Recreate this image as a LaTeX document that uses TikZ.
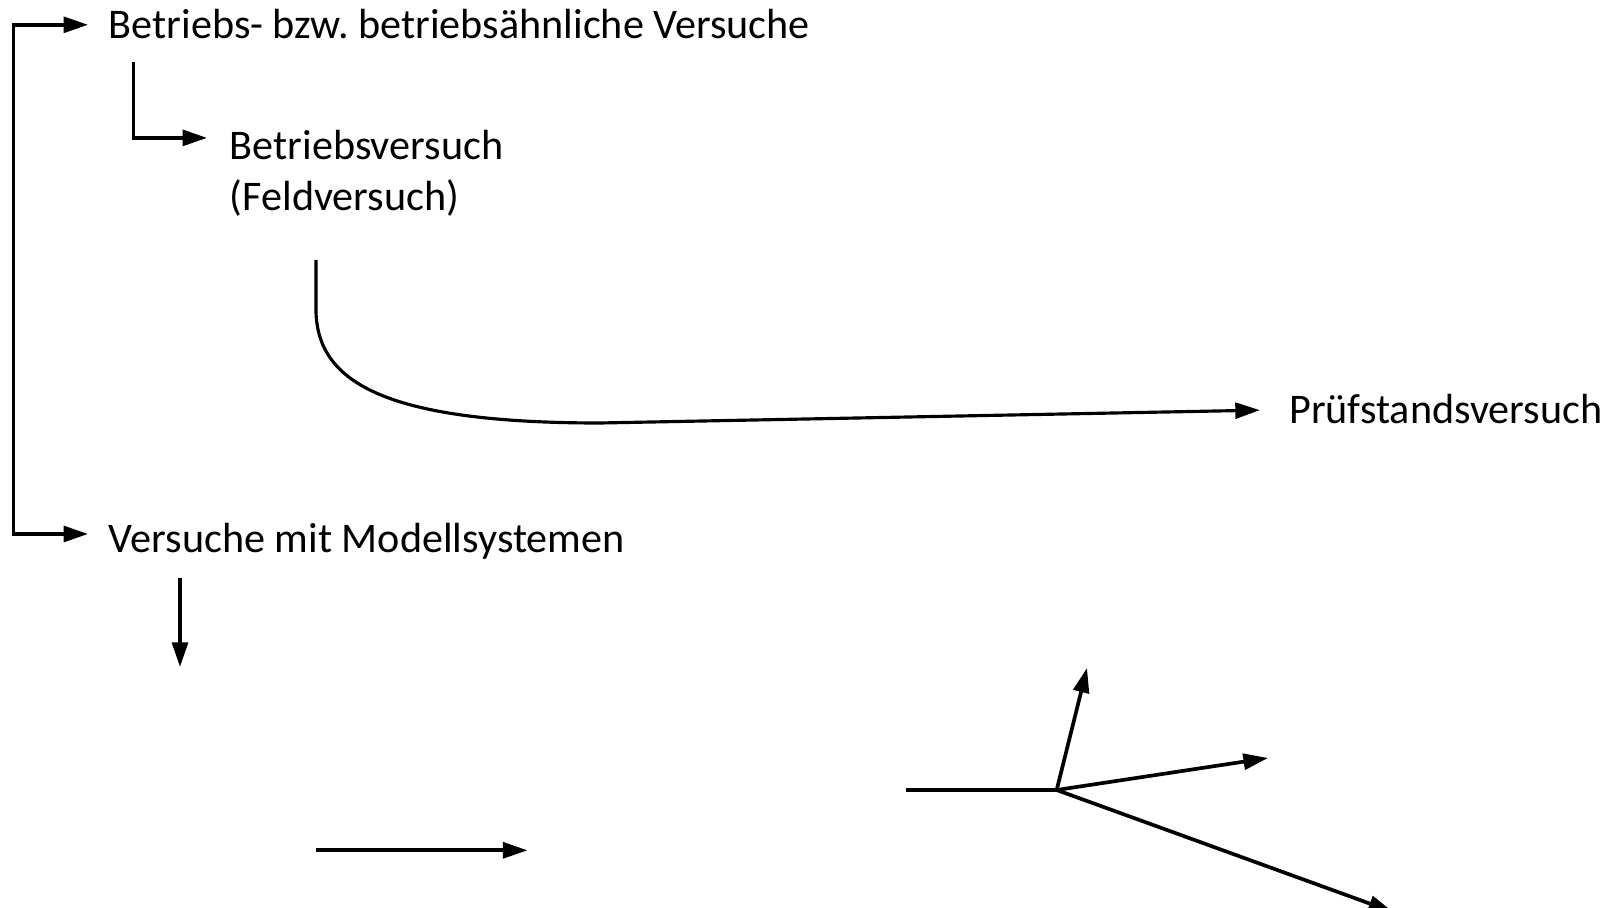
\documentclass[tikz,border=0pt]{standalone}
\usepackage{fontspec}
\setmainfont{Carlito}
\usetikzlibrary{positioning,arrows.meta}
\frenchspacing
\tikzset{
  arrow/.style={-{Triangle[length=14pt,width=9pt]}, line width=2.1pt, draw=black},
  bracket/.style={arrow, line cap=rect, line join=miter},
  curved/.style={-{Triangle[length=14pt,width=9pt]}, line width=1.8pt, draw=black},
  plain/.style={line width=2.1pt, draw=black},
  term/.style={
    font=\fontsize{24}{29}\selectfont,
    text=black,
    inner sep=0pt,
    anchor=west,
    text height=15.5pt,
    text depth=0pt
  }
}

\begin{document}
\begin{tikzpicture}[x=0.02cm, y=-0.02cm]
\useasboundingbox (0,0) rectangle (1622,908);

% Texts
\node[term] (betrieb) at (108.6,24.8) {Betriebs- bzw. betriebsähnliche Versuche};
\node[term] (feld) at (229.6,145.9) {Betriebsversuch};
\node[term, below=1.014cm of feld.west, anchor=west] (feldb) {(Feldversuch)};
\node[term] (pruef) at (1288.9,409.6) {Prüfstandsversuch};
\node[term] (modell) at (108.6,539) {Versuche mit Modellsystemen};

% Free ends
\coordinate (klammer) at (13.5,24.8);
\coordinate (ecke) at (133.4,64.1);
\coordinate (bogen) at (316,260);
\coordinate (runter) at (180,578);
\coordinate (runterend) at (180,667);
\coordinate (quer) at (315.5,850.3);
\coordinate (querend) at (527.5,850.3);
\coordinate (ast) at (906,790);
\coordinate (knoten) at (1056.7,790);
\coordinate (astoben) at (1087,668);
\coordinate (astmitte) at (1268,758);
\coordinate (astunten) at (1393,912);

% Bracket
\draw[bracket, shorten >=0.41cm] (klammer) -- (betrieb);
\draw[bracket, shorten >=0.41cm] (klammer) |- ([yshift=0.1cm]modell.west);

% Sub branch
\draw[bracket, shorten >=0.45cm] (ecke) |- ([yshift=0.16cm]feld.west);

% Curve to test rig
\draw[curved, shorten >=0.58cm] (bogen) -- (316,312)
  .. controls (318,380) and (380,423) .. (600,423) -- (pruef.west);

% Lower arrows
\draw[arrow] (runter) -- (runterend);
\draw[arrow] (quer) -- (querend);

% Fan
\draw[plain] (ast) -- (knoten);
\draw[arrow] (knoten) -- (astoben);
\draw[arrow] (knoten) -- (astmitte);
\draw[arrow] (knoten) -- (astunten);

\end{tikzpicture}
\end{document}
